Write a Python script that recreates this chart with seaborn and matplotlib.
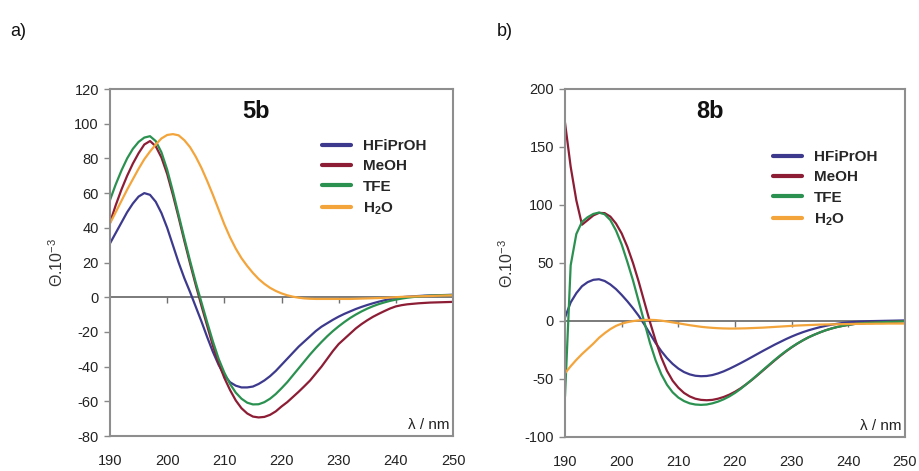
import matplotlib
matplotlib.use("Agg")
import matplotlib.pyplot as plt
import seaborn as sns
import pandas as pd

# ---------------- data ----------------
wavelength = list(range(190, 251))

solvents = ["HFiPrOH", "MeOH", "TFE", "H2O"]
solvent_labels = ["HFiPrOH", "MeOH", "TFE", r"$\mathbf{H_2O}$"]

# panel a) 5b
hfip_a = [31, 37, 43, 49, 54, 58, 60, 59, 55, 48.5,
          40, 30, 20, 11, 3, -5.5, -14, -23, -31.5, -39,
          -45, -49, -51, -52, -52, -51.5, -50, -48, -45.5, -42.5,
          -39, -35.5, -32, -28.5, -25.5, -22.5, -19.5, -17, -15, -13,
          -11.2, -9.6, -8.2, -6.8, -5.6, -4.5, -3.5, -2.6, -1.8, -1.1,
          -0.5, 0, 0.3, 0.5, 0.7, 0.9, 1.0, 1.1, 1.2, 1.3,
          1.4]
meoh_a = [43, 53, 62, 70, 77, 83, 88, 90, 87, 80.5,
          71, 59, 46, 32.5, 19.5, 7, -5, -16.5, -28, -38,
          -46.5, -53.5, -59.5, -64, -67, -68.8, -69.3, -69, -67.8, -65.8,
          -63, -60.5, -57.5, -54.5, -51.3, -48, -44, -40, -35.5, -31,
          -27, -24, -21, -18, -15.5, -13.3, -11.3, -9.6, -8, -6.5,
          -5.3, -4.6, -4.1, -3.8, -3.5, -3.3, -3.1, -3.0, -2.9, -2.8,
          -2.7]
tfe_a = [56, 65, 73, 80, 85.5, 89.5, 92, 92.8, 90, 83.5,
         73.5, 61, 47.5, 34, 21, 8.5, -3, -14.5, -25.5, -35.5,
         -43.5, -50, -55, -58.5, -60.8, -61.8, -61.7, -60.5, -58.5, -55.8,
         -52.5, -49, -45, -41, -37, -33, -29.3, -25.8, -22.5, -19.5,
         -16.8, -14.3, -12, -10, -8.2, -6.6, -5.2, -4, -3, -2.1,
         -1.4, -0.8, -0.3, 0.1, 0.4, 0.7, 0.9, 1.0, 1.1, 1.2,
         1.3]
h2o_a = [42.5, 49, 55.5, 62, 68, 74, 79.5, 84, 88, 91.5,
         93.5, 94, 93.3, 90.5, 86.5, 81, 74.5, 67, 59, 50.5,
         42, 34.5, 28, 22.5, 18, 14, 10.5, 7.7, 5.4, 3.6,
         2.2, 1.1, 0.3, -0.3, -0.7, -0.9, -1, -1, -1, -1,
         -1, -1, -1, -0.9, -0.8, -0.7, -0.6, -0.5, -0.4, -0.2,
         0, 0.2, 0.3, 0.4, 0.5, 0.6, 0.7, 0.8, 0.9, 1.0,
         1.1]

# panel b) 8b
hfip_b = [3, 16, 24, 30, 33.5, 35.5, 36, 34.5, 31.5, 27.5,
          22.5, 17, 11, 4.5, -3, -11, -19, -26, -32, -37,
          -41, -44, -46, -47.2, -47.6, -47.4, -46.6, -45.2, -43.4, -41.2,
          -38.8, -36.3, -33.7, -31, -28.3, -25.6, -23, -20.4, -18, -15.6,
          -13.4, -11.4, -9.6, -8, -6.6, -5.3, -4.2, -3.2, -2.4, -1.7,
          -1.2, -0.8, -0.5, -0.3, -0.1, 0, 0.1, 0.2, 0.3, 0.4,
          0.5]
meoh_b = [171, 133, 104, 83, 87, 91, 93.2, 93, 90, 84,
          75.5, 64, 50, 34, 16.5, -1, -17, -31.5, -43, -51.5,
          -57.5, -62, -65, -67, -68, -68.3, -68, -67, -65.5, -63.5,
          -61, -58, -54.5, -50.7, -46.6, -42.4, -38.2, -34, -30, -26.2,
          -22.7, -19.5, -16.6, -14, -11.8, -9.8, -8, -6.5, -5.2, -4.2,
          -3.3, -2.6, -2.1, -1.7, -1.4, -1.2, -1.0, -0.8, -0.6, -0.4,
          -0.2]
tfe_b = [-65, 48, 75, 85.5, 89.5, 92.3, 93.5, 92, 87, 78,
         66, 51, 35, 17, -1, -19, -34, -46, -55, -61.5,
         -66, -69, -71, -72, -72.3, -72, -71, -69.5, -67.5, -65,
         -62, -58.5, -54.5, -50.5, -46.3, -42, -37.8, -33.6, -29.6, -25.9,
         -22.5, -19.4, -16.6, -14, -11.8, -9.8, -8, -6.5, -5.2, -4.2,
         -3.3, -2.6, -2.1, -1.7, -1.4, -1.2, -1.0, -0.8, -0.6, -0.4,
         -0.2]
h2o_b = [-45, -39, -33.5, -28.5, -24, -19.5, -14.5, -10.5, -7, -4.2,
         -2.3, -1.0, -0.1, 0.5, 0.9, 1.0, 0.8, 0.3, -0.4, -1.2,
         -2, -2.8, -3.6, -4.3, -5, -5.5, -5.9, -6.2, -6.4, -6.5,
         -6.5, -6.4, -6.3, -6.1, -5.9, -5.7, -5.4, -5.1, -4.8, -4.5,
         -4.2, -3.9, -3.7, -3.5, -3.3, -3.1, -3.0, -2.9, -2.8, -2.7,
         -2.6, -2.5, -2.5, -2.4, -2.4, -2.3, -2.3, -2.2, -2.2, -2.2,
         -2.2]

x_ticks = [190, 200, 210, 220, 230, 240, 250]
y_ticks_a = [-80, -60, -40, -20, 0, 20, 40, 60, 80, 100, 120]
y_ticks_b = [-100, -50, 0, 50, 100, 150, 200]

colors = ["#3d3a8e", "#8c1d35", "#2b9150", "#f3a53c"]

# ---------------- style ----------------
sns.set_style("white")
plt.rcParams["font.family"] = ["Liberation Sans", "DejaVu Sans"]
plt.rcParams["axes.unicode_minus"] = False
plt.rcParams["mathtext.fontset"] = "custom"
plt.rcParams["mathtext.rm"] = "Liberation Sans"
plt.rcParams["mathtext.bf"] = "Liberation Sans:bold"
plt.rcParams["mathtext.it"] = "Liberation Sans:italic"

fig = plt.figure(figsize=(9.2, 4.71), dpi=100)
ax_a = fig.add_axes([110 / 920, 1 - 436 / 471, 343 / 920, 347 / 471])
ax_b = fig.add_axes([565 / 920, 1 - 437 / 471, 340 / 920, 348 / 471])


def build_df(series):
    rows = []
    for name, vals in zip(solvents, series):
        for xv, yv in zip(wavelength, vals):
            rows.append({"wavelength": xv, "theta": yv, "solvent": name})
    return pd.DataFrame(rows)


def draw_panel(ax, series, ylim, yticks, title, legend_xy):
    df = build_df(series)
    ax.axhline(0, color="#707070", lw=1.3, zorder=1.5)
    sns.lineplot(data=df, x="wavelength", y="theta", hue="solvent",
                 hue_order=solvents, palette=colors, linewidth=1.6,
                 ax=ax, zorder=2, estimator=None, sort=True)
    ax.set_xlim(190, 250)
    ax.set_ylim(*ylim)
    ax.set_xticks(x_ticks)
    ax.set_yticks(yticks)
    ax.tick_params(axis="x", length=0, pad=13, labelsize=10.5, labelcolor="#222222")
    ax.tick_params(axis="y", length=4, width=1, direction="out", color="#888888",
                   pad=4, labelsize=10.5, labelcolor="#222222", left=True)
    for sp in ax.spines.values():
        sp.set_color("#8e8e8e")
        sp.set_linewidth(1.5)
    ax.set_xlabel("")
    ax.set_ylabel("Θ.10$^{\\mathrm{-3}}$", fontsize=11.5, color="#333333", labelpad=6)
    # tick marks on zero line
    frac = (0 - ylim[0]) / (ylim[1] - ylim[0])
    sec = ax.secondary_xaxis(frac)
    sec.set_xticks(x_ticks[1:-1])
    sec.tick_params(axis="x", direction="out", length=4, width=1, color="#707070",
                    labelbottom=False)
    sec.spines["bottom"].set_visible(False)
    ax.text(0.427, 0.935, title, transform=ax.transAxes, ha="center", va="center",
            fontsize=17, fontweight="bold", color="#111111")
    ax.text(0.99, 0.012, "λ / nm", transform=ax.transAxes, ha="right", va="bottom",
            fontsize=11, color="#222222")
    handles, _ = ax.get_legend_handles_labels()
    leg = ax.legend(handles, solvent_labels, loc="upper left", bbox_to_anchor=legend_xy,
                    frameon=False, prop={"weight": "bold", "size": 11},
                    handlelength=1.9, handletextpad=0.8, labelspacing=0.42,
                    borderpad=0, borderaxespad=0)
    for ln in leg.get_lines():
        ln.set_linewidth(3.0)


draw_panel(ax_a, [hfip_a, meoh_a, tfe_a, h2o_a], (-80, 120), y_ticks_a, "5b",
           ((322 - 110) / 343, (436 - 139) / 347))
draw_panel(ax_b, [hfip_b, meoh_b, tfe_b, h2o_b], (-100, 200), y_ticks_b, "8b",
           ((773 - 565) / 340, (437 - 150) / 348))

fig.text(10 / 920, 1 - 32 / 471, "a)", fontsize=13, va="center", ha="left", color="#111111")
fig.text(497 / 920, 1 - 32 / 471, "b)", fontsize=13, va="center", ha="left", color="#111111")

fig.savefig("out.png", dpi=100)
